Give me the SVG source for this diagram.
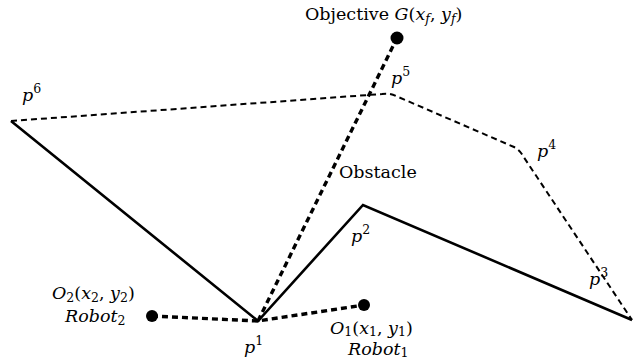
<svg xmlns="http://www.w3.org/2000/svg" width="633" height="362" viewBox="0 0 633 362">
<style>
text{font-family:"DejaVu Serif","Liberation Serif",serif;font-size:17.5px;fill:#000}
.i{font-style:italic}
.s{font-size:12.5px}
.solid{fill:none;stroke:#000;stroke-width:2.6;stroke-linejoin:miter}
.thin{fill:none;stroke:#000;stroke-width:2;stroke-dasharray:6,4}
.thick{fill:none;stroke:#000;stroke-width:3.4;stroke-dasharray:6,4}
</style>
<rect width="633" height="362" fill="#fff"/>
<g id="connectors">
<polyline class="solid" points="11,121 258,321 363,205 632,320"/>
<path class="thin" d="M11,121 L382,94 Q390,93 396,96 L514,147 Q520,150 523,156 L632,320"/>
<line class="thick" x1="258" y1="321" x2="397" y2="38"/>
<polyline class="thick" points="152,316 258,321 364,305"/>
</g>
<g id="goal"><circle cx="397" cy="38" r="6.5"/><text x="305" y="20">Objective <tspan class="i">G</tspan>(<tspan class="i">x</tspan><tspan class="i s" dy="3">f</tspan><tspan dy="-3">, </tspan><tspan class="i">y</tspan><tspan class="i s" dy="3">f</tspan><tspan dy="-3">)</tspan></text></g>
<g id="p6"><text x="22" y="101" class="i">p<tspan class="s" dy="-8" font-style="normal">6</tspan></text></g>
<g id="p5"><text x="391" y="84" class="i">p<tspan class="s" dy="-8" font-style="normal">5</tspan></text></g>
<g id="p4"><text x="537" y="157" class="i">p<tspan class="s" dy="-8" font-style="normal">4</tspan></text></g>
<g id="obstacle"><text x="339" y="178">Obstacle</text></g>
<g id="p2"><text x="351" y="242" class="i">p<tspan class="s" dy="-8" font-style="normal">2</tspan></text></g>
<g id="p3"><text x="589" y="285" class="i">p<tspan class="s" dy="-8" font-style="normal">3</tspan></text></g>
<g id="p1"><text x="244" y="353" class="i">p<tspan class="s" dy="-8" font-style="normal">1</tspan></text></g>
<g id="robot2"><circle cx="152" cy="316" r="6"/>
<text x="52" y="299"><tspan class="i">O</tspan><tspan class="s" dy="3">2</tspan><tspan dy="-3">(</tspan><tspan class="i">x</tspan><tspan class="s" dy="3">2</tspan><tspan dy="-3">, </tspan><tspan class="i">y</tspan><tspan class="s" dy="3">2</tspan><tspan dy="-3">)</tspan></text>
<text x="65" y="322"><tspan class="i">Robot</tspan><tspan class="s" dy="3">2</tspan></text></g>
<g id="robot1"><circle cx="364" cy="305" r="6"/>
<text x="330" y="334"><tspan class="i">O</tspan><tspan class="s" dy="2">1</tspan><tspan dy="-2">(</tspan><tspan class="i">x</tspan><tspan class="s" dy="2">1</tspan><tspan dy="-2">, </tspan><tspan class="i">y</tspan><tspan class="s" dy="2">1</tspan><tspan dy="-2">)</tspan></text>
<text x="348" y="355"><tspan class="i">Robot</tspan><tspan class="s" dy="2">1</tspan></text></g>
</svg>
